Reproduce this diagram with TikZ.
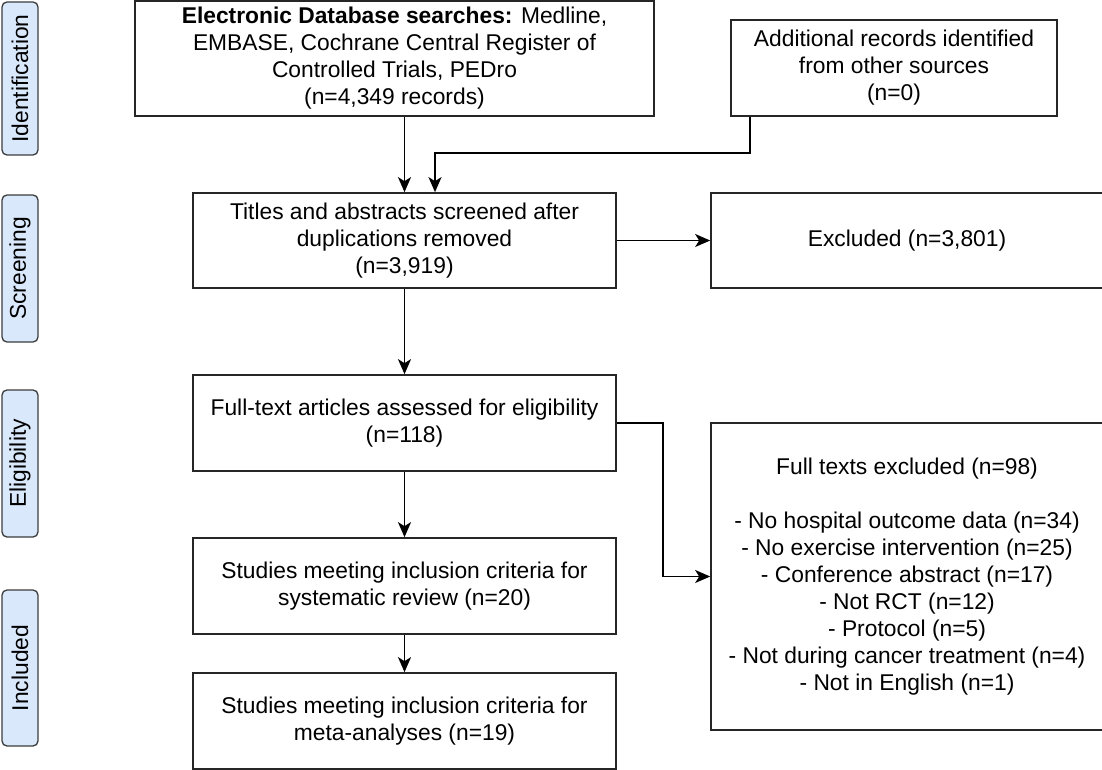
\documentclass[tikz,border=0pt]{standalone}
\usepackage{fontspec}
\setmainfont{Liberation Sans}
\usetikzlibrary{arrows.meta}
\definecolor{labfill}{RGB}{218,232,252}
\definecolor{labline}{RGB}{60,60,60}
\begin{document}
\begin{tikzpicture}[x=1pt,y=-1pt,
  font=\fontsize{22.8}{27}\selectfont,
  box/.style={draw=black!85, line width=1.7pt, rectangle, align=center, inner sep=0pt, fill=white},
  lab/.style={draw=labline, line width=1.3pt, rounded corners=5pt, fill=labfill, rotate=90, inner sep=0pt, minimum height=36pt},
  arr/.style={draw=black, line width=1.7pt, -{Stealth[length=15pt,width=13pt,inset=4pt]}}]
\useasboundingbox (0,0) rectangle (1102,770);
% stage labels
\node[lab, minimum width=153pt] (lid) at (20,78.5) {Identification};
\node[lab, minimum width=147pt] (lsc) at (20,268.5) {Screening};
\node[lab, minimum width=147pt] (lel) at (20,463.5) {Eligibility};
\node[lab, minimum width=156pt] (lin) at (20,668) {Included};
% boxes
\node[box, minimum width=519pt, minimum height=115pt] (db) at (394.5,58.5)
  {\textbf{Electronic Database searches:} Medline,\\EMBASE, Cochrane Central Register of\\Controlled Trials, PEDro\\(n=4,349 records)};
\node[box, minimum width=326pt, minimum height=96pt] (add) at (894,68)
  {Additional records identified\\from other sources\\(n=0)};
\node[box, minimum width=423pt, minimum height=95pt] (titles) at (404.5,240.5)
  {Titles and abstracts screened after\\duplications removed\\(n=3,919)};
\node[box, minimum width=392pt, minimum height=95pt] (excl) at (907,240.5)
  {Excluded (n=3,801)};
\node[box, minimum width=423pt, minimum height=96pt] (full) at (404.5,423)
  {Full-text articles assessed for eligibility\\(n=118)};
\node[box, minimum width=392pt, minimum height=307pt] (ftex) at (907,576.5)
  {Full texts excluded (n=98)\\[27pt]- No hospital outcome data (n=34)\\- No exercise intervention (n=25)\\- Conference abstract (n=17)\\- Not RCT (n=12)\\- Protocol (n=5)\\- Not during cancer treatment (n=4)\\- Not in English (n=1)};
\node[box, minimum width=423pt, minimum height=96pt] (sr) at (404.5,586)
  {Studies meeting inclusion criteria for\\systematic review (n=20)};
\node[box, minimum width=423pt, minimum height=96pt] (ma) at (404.5,721)
  {Studies meeting inclusion criteria for\\meta-analyses (n=19)};
% connectors
\coordinate (kA) at (750,153);
\coordinate (kB) at (435,153);
\coordinate (kC) at (663,423);
\draw[arr] (titles.north |- db.south) -- (titles.north);
\draw[arr] (add.south -| kA) -- (kA) -- (kB) -- (titles.north -| kB);
\draw[arr] (titles.east) -- (excl.west);
\draw[arr] (titles.south) -- (full.north);
\draw[arr] (full.east) -- (kC) |- (ftex.west);
\draw[arr] (full.south) -- (sr.north);
\draw[arr] (sr.south) -- (ma.north);
\end{tikzpicture}
\end{document}
